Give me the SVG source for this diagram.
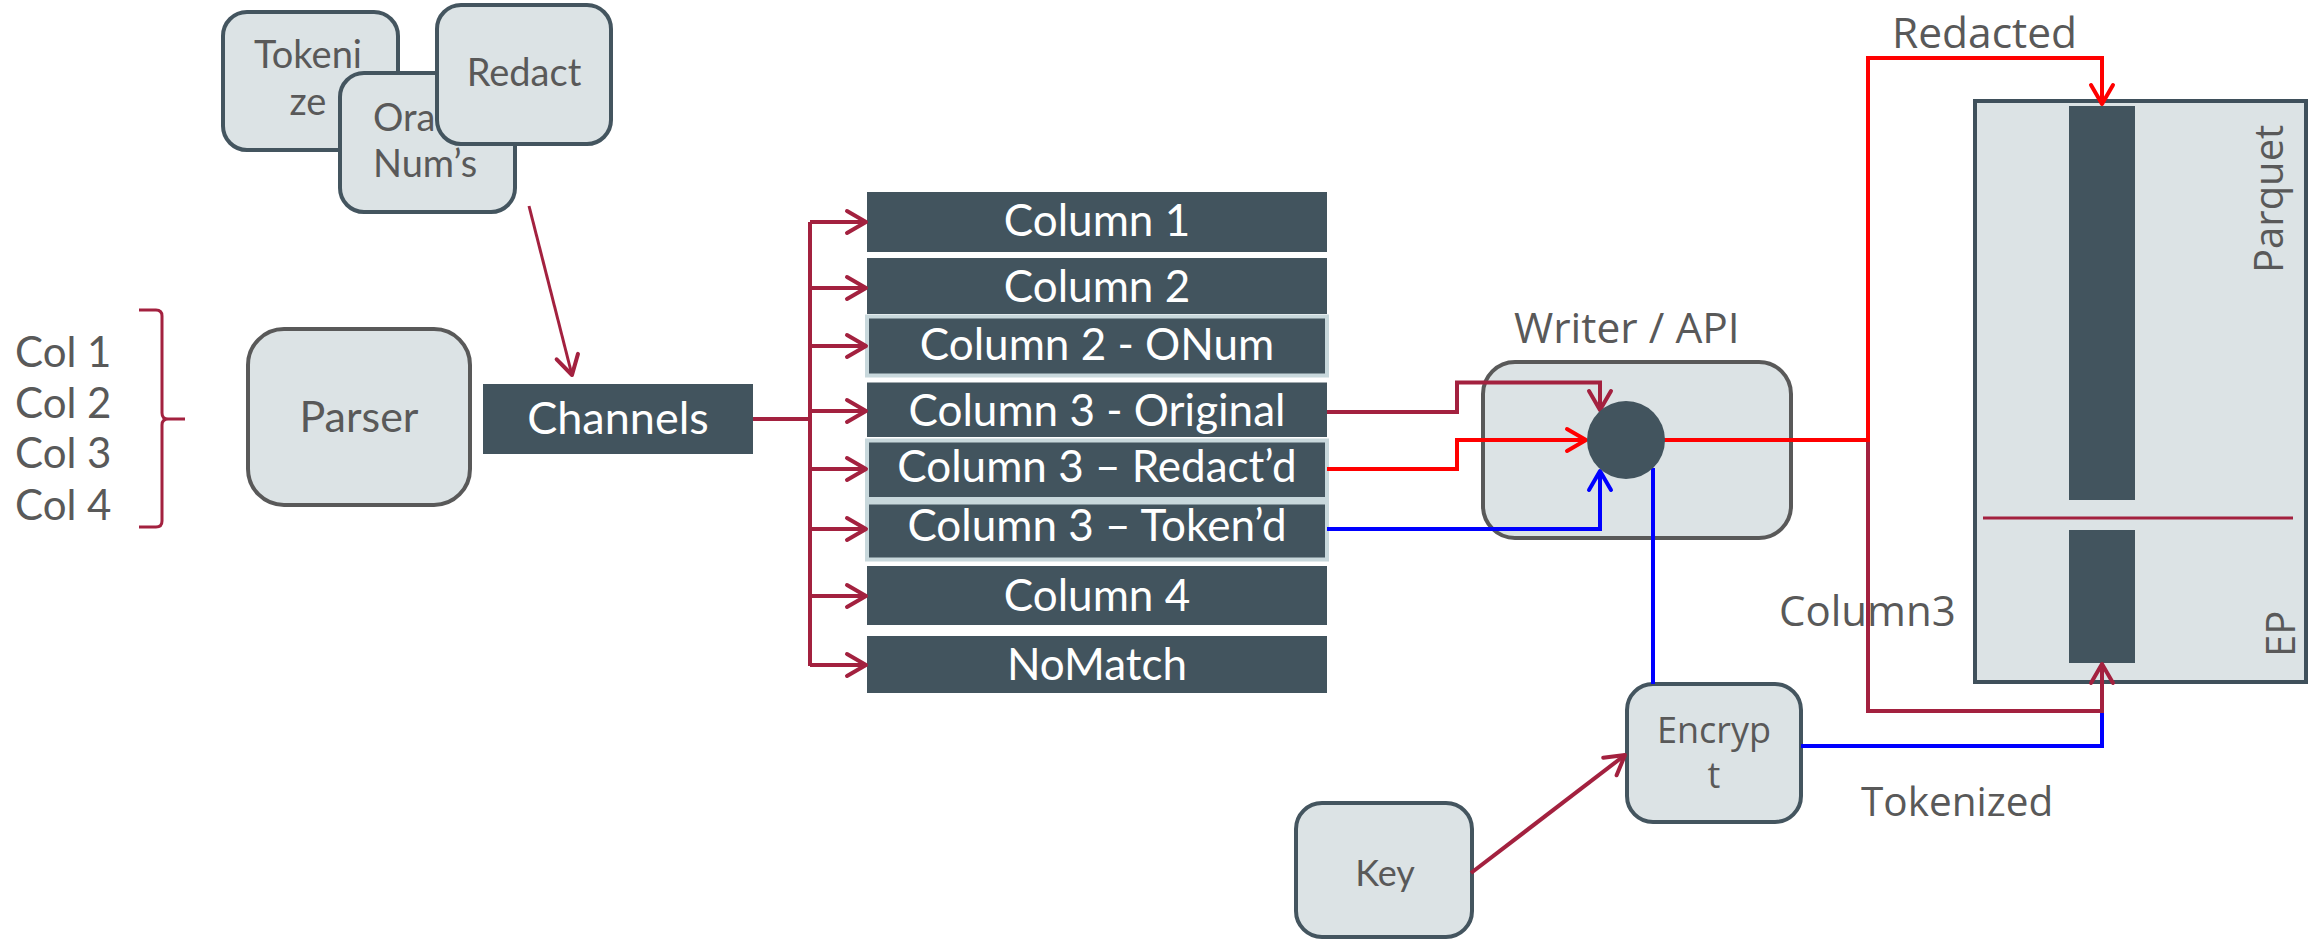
<svg xmlns="http://www.w3.org/2000/svg" width="2318" height="940" viewBox="0 0 2318 940">
<style>
.lbox{fill:#dce3e5;stroke:#44555f;stroke-width:4}
.gbox{fill:#dce3e5;stroke:#595959;stroke-width:4}
.dark{fill:#42545e}
.bord{fill:#42545e;stroke:#c8d8dc;stroke-width:4}
.t1{font-family:Lato,"Liberation Sans",sans-serif;fill:#595959}
.tw{font-family:Lato,"Liberation Sans",sans-serif;fill:#ffffff;font-size:44px;text-anchor:middle}
.t2{font-family:"Open Sans","DejaVu Sans",sans-serif;fill:#595959;font-size:40px}
.mr{fill:none;stroke:#a3213f;stroke-width:4}
.rd{fill:none;stroke:#ff0000;stroke-width:4}
.bl{fill:none;stroke:#0000ff;stroke-width:4}
.mid{text-anchor:middle}
</style>
<defs>
<marker id="am" markerUnits="userSpaceOnUse" viewBox="-3 -14 26 28" markerWidth="26" markerHeight="28" refX="19" refY="0" orient="auto"><path d="M0,-11 L19,0 L0,11" fill="none" stroke="#a3213f" stroke-width="4" stroke-linecap="round" stroke-linejoin="round"/></marker>
<marker id="ar" markerUnits="userSpaceOnUse" viewBox="-3 -14 26 28" markerWidth="26" markerHeight="28" refX="19" refY="0" orient="auto"><path d="M0,-11 L19,0 L0,11" fill="none" stroke="#ff0000" stroke-width="4" stroke-linecap="round" stroke-linejoin="round"/></marker>
<marker id="ab" markerUnits="userSpaceOnUse" viewBox="-3 -14 26 28" markerWidth="26" markerHeight="28" refX="19" refY="0" orient="auto"><path d="M0,-11 L19,0 L0,11" fill="none" stroke="#0000ff" stroke-width="4" stroke-linecap="round" stroke-linejoin="round"/></marker>
</defs>
<rect width="2318" height="940" fill="#ffffff"/>

<g id="tokenize"><rect class="lbox" x="223" y="12" width="175" height="138" rx="24"/><text class="t1 mid" x="308" y="68" font-size="38">Tokeni</text><text class="t1 mid" x="308" y="115" font-size="38">ze</text></g>
<g id="oranums"><rect class="lbox" x="340" y="73" width="175" height="139" rx="24"/><text class="t1" x="373" y="131" font-size="38">Ora</text><text class="t1" x="373" y="177" font-size="38">Num’s</text></g>
<g id="redact"><rect class="lbox" x="437" y="5" width="174" height="139" rx="24"/><text class="t1 mid" x="524" y="86" font-size="38">Redact</text></g>

<g id="cols"><text class="t1" x="15" y="367" font-size="42">Col 1</text><text class="t1" x="15" y="418" font-size="42">Col 2</text><text class="t1" x="15" y="468" font-size="42">Col 3</text><text class="t1" x="15" y="520" font-size="42">Col 4</text></g>

<g id="parser"><rect class="gbox" x="248" y="329" width="222" height="176" rx="36"/><text class="t1 mid" x="359" y="432" font-size="43">Parser</text></g>
<g id="channels"><rect class="dark" x="483" y="384" width="270" height="70"/><text class="tw" x="618" y="434" font-size="45" style="font-size:45px">Channels</text></g>

<g id="column1"><rect class="dark" x="867" y="192" width="460" height="60"/><text class="tw" x="1097" y="236">Column 1</text></g>
<g id="column2"><rect class="dark" x="867" y="258" width="460" height="56"/><text class="tw" x="1097" y="302">Column 2</text></g>
<g id="column2onum"><rect class="bord" x="867" y="316.5" width="460" height="59"/><text class="tw" x="1097" y="360">Column 2 - ONum</text></g>
<g id="column3orig"><rect class="dark" x="867" y="382.5" width="460" height="54.5"/><text class="tw" x="1097" y="426">Column 3 - Original</text></g>
<g id="column3red"><rect class="bord" x="867" y="440.5" width="460" height="58.5"/><text class="tw" x="1097" y="482">Column 3 – Redact’d</text></g>
<g id="column3tok"><rect class="bord" x="867" y="502.5" width="460" height="57"/><text class="tw" x="1097" y="541">Column 3 – Token’d</text></g>
<g id="column4"><rect class="dark" x="867" y="566" width="460" height="59"/><text class="tw" x="1097" y="611">Column 4</text></g>
<g id="nomatch"><rect class="dark" x="867" y="636" width="460" height="57"/><text class="tw" x="1097" y="680">NoMatch</text></g>

<g id="writer"><text class="t2" x="1514" y="343" style="font-size:42.5px">Writer / API</text><rect class="gbox" x="1483" y="362" width="308" height="176" rx="32"/></g>

<g id="parquet"><rect fill="#dce3e5" stroke="#3f505b" stroke-width="4" x="1975" y="101" width="331" height="581"/><rect class="dark" x="2069" y="106" width="66" height="394"/><rect class="dark" x="2069" y="530" width="66" height="133"/><line x1="1983" y1="518" x2="2293" y2="518" stroke="#a3213f" stroke-width="3"/><text class="t2" transform="translate(2283,273) rotate(-90)">Parquet</text><text class="t2" transform="translate(2295,657) rotate(-90)">EP</text></g>

<g id="encrypt"><rect class="lbox" x="1627" y="684" width="174" height="138" rx="26"/><text class="t2 mid" x="1714" y="743" style="font-size:36px">Encryp</text><text class="t2 mid" x="1714" y="788" style="font-size:36px">t</text></g>
<g id="key"><rect class="lbox" x="1296" y="803" width="176" height="134" rx="26"/><text class="t1 mid" x="1385" y="886" font-size="36">Key</text></g>

<g id="labels"><text class="t2" x="1892" y="48" style="font-size:42.5px">Redacted</text><text class="t2" x="1779" y="626" style="font-size:42px">Column3</text><text class="t2" x="1861" y="816" style="font-size:40.5px">Tokenized</text></g>

<g id="connectors">
<path d="M139,310 L156,310 Q162,310 162,316 L162,413 Q162,419 168,419 L185,419 M168,419 Q162,419 162,425 L162,521 Q162,527 156,527 L139,527" fill="none" stroke="#a3213f" stroke-width="3"/>
<path d="M529,206 L572,375" fill="none" stroke="#a3213f" stroke-width="3" marker-end="url(#am)"/>
<path class="mr" d="M753,419 L810,419 M810,222 L810,666"/>
<path class="mr" d="M810,222 L866,222" marker-end="url(#am)"/>
<path class="mr" d="M810,288 L866,288" marker-end="url(#am)"/>
<path class="mr" d="M810,346 L866,346" marker-end="url(#am)"/>
<path class="mr" d="M810,411 L866,411" marker-end="url(#am)"/>
<path class="mr" d="M810,469 L866,469" marker-end="url(#am)"/>
<path class="mr" d="M810,529 L866,529" marker-end="url(#am)"/>
<path class="mr" d="M810,596 L866,596" marker-end="url(#am)"/>
<path class="mr" d="M810,665 L866,665" marker-end="url(#am)"/>
<path class="mr" d="M1327,412 L1457,412 L1457,382.5 L1600,382.5 L1600,410" marker-end="url(#am)"/>
<path class="rd" d="M1327,469 L1457,469 L1457,440 L1586,440" marker-end="url(#ar)"/>
<path class="bl" d="M1327,529 L1600,529 L1600,471" marker-end="url(#ab)"/>
<path class="bl" d="M1653,468 L1653,684"/>
<path class="bl" d="M1801,746 L2102,746 L2102,711"/>
<path class="mr" d="M1868,440 L1868,711 L2102,711 L2102,664" marker-end="url(#am)"/>
<path class="rd" d="M1664,440 L1868,440 L1868,58 L2102,58 L2102,104" marker-end="url(#ar)"/>
<path class="mr" d="M1471,873 L1625,755" marker-end="url(#am)"/>
</g>
<circle id="hub" cx="1626" cy="440" r="39" fill="#42545e"/>
</svg>
